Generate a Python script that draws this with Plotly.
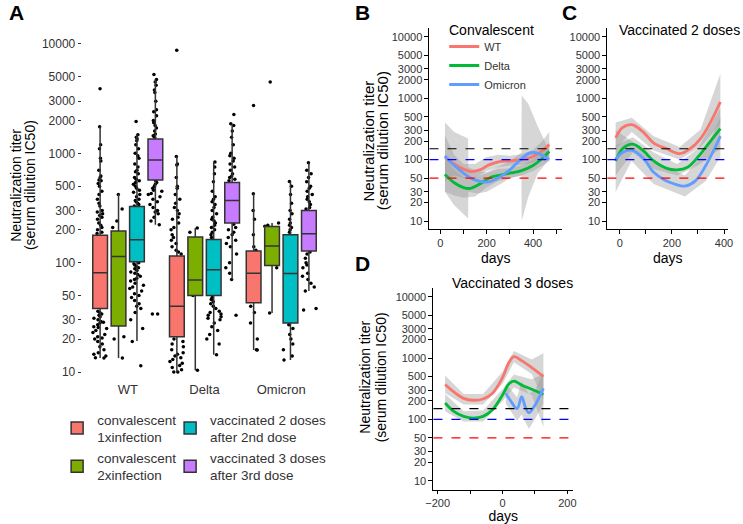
import plotly.graph_objects as go

W, H = 743, 524

# ---------------- panel A: titers per variant ----------------
categories = ['WT', 'Delta', 'Omicron']
group_names = ['convalescent<br>1xinfection', 'convalescent<br>2xinfection',
               'vaccinated 2 doses<br>after 2nd dose', 'vaccinated 3 doses<br>after 3rd dose']
group_colors = ['#F8766D', '#7CAE00', '#00BFC4', '#C77CFF']

# box statistics, one value per category (WT, Delta, Omicron)
red_stats = dict(q1=[38, 21, 43], median=[81, 40, 80], q3=[178, 115, 128],
                 lowerfence=[13.4, 10, 15.9], upperfence=[1760, 937, 426])
green_stats = dict(q1=[26.4, 50, 94], median=[114, 69.5, 142], q3=[195, 172, 214],
                   lowerfence=[13.4, 10.4, 34.7], upperfence=[424, 208, 231])
cyan_stats = dict(q1=[102, 50, 28], median=[162, 86, 79.5], q3=[327, 163, 180],
                  lowerfence=[19.2, 14.4, 12.9], upperfence=[1480, 832, 553])
purple_stats = dict(q1=[569, 230, 128], median=[869, 371, 184], q3=[1352, 542, 300],
                    lowerfence=[222, 70, 55], upperfence=[4720, 1866, 820])

# individual sera (the ones visible outside the boxes)
red_points = {
    'WT': [3900, 1750, 1200, 1100, 900, 850, 700, 620, 600, 570, 560, 530, 500, 450, 420, 380,
           350, 330, 300, 290, 280, 270, 260, 250, 230, 220, 210, 200, 190, 185,
           36, 35, 34, 33, 32, 31, 30, 29, 28, 27, 26, 25, 24, 23, 22, 21, 20, 19, 18,
           17, 16, 15, 14.5, 14, 13.5, 13.4, 20.5, 25.5, 28.5],
    'Delta': [8750, 937, 800, 780, 600, 500, 480, 420, 380, 350, 320, 300, 280, 260, 250,
              230, 210, 200, 180, 170, 160, 150, 140, 130, 125, 120,
              20, 19, 18, 17, 16, 15, 14.5, 14, 13.5, 13, 12.5, 12, 11.5, 11, 10.5, 10, 10],
    'Omicron': [2730, 426, 300, 250, 180, 140, 130, 40, 35, 28, 20, 16, 15.9],
}
green_points = {
    'WT': [420, 310, 240, 210, 21, 20, 13.4],
    'Delta': [208, 190, 50, 10.4],
    'Omicron': [4500, 231, 220, 215, 90, 34.7],
}
cyan_points = {
    'WT': [1950, 1480, 1400, 1350, 1300, 1200, 1100, 1000, 950, 900, 800, 750, 700, 680, 650,
           600, 580, 560, 540, 520, 500, 480, 460, 440, 420, 400, 380, 370, 360, 350, 340, 330,
           100, 98, 95, 92, 90, 88, 85, 82, 80, 78, 75, 72, 70, 68, 65, 62, 60, 58, 55, 52,
           50, 48, 45, 42, 40, 38, 35, 30, 25, 19, 11.4],
    'Delta': [832, 750, 650, 550, 450, 400, 380, 360, 340, 320, 300, 280, 260, 250, 240, 230,
              220, 210, 200, 190, 180, 170, 48, 46, 44, 42, 40, 38, 36, 35, 34, 33, 32, 31,
              30, 28, 26, 24, 22, 20, 18, 14.4],
    'Omicron': [553, 500, 420, 350, 300, 280, 250, 230, 220, 210, 200, 190,
                27, 25, 22, 20, 18, 16, 14, 12.9],
}
purple_points = {
    'WT': [5260, 4720, 4500, 4200, 3800, 3600, 3000, 2500, 2400, 2200, 2000, 1900, 1800, 1700,
           1600, 1500, 1450, 1400, 560, 540, 520, 500, 480, 460, 450, 430, 420, 400, 380, 360,
           340, 320, 300, 290, 280, 260, 240, 222, 34, 34],
    'Delta': [2270, 1866, 1800, 1600, 1400, 1200, 1000, 950, 900, 850, 800, 750, 700, 650, 620,
              600, 580, 560, 225, 210, 200, 190, 180, 170, 160, 150, 140, 120, 100, 90, 80, 70, 33],
    'Omicron': [820, 700, 650, 600, 550, 500, 480, 450, 420, 400, 380, 360, 340, 320, 310,
                125, 120, 110, 100, 95, 90, 80, 75, 70, 65, 60, 55, 38, 37],
}

# ---------------- panels B-D: titer over time ----------------
variant_names = ['WT', 'Delta', 'Omicron']
variant_colors = ['#F8766D', '#00BA38', '#619CFF']
thresholds = [150, 100, 50]
threshold_colors = ['black', '#0000FF', '#FF0000']

b_wt_days = [20, 60, 100, 130, 170, 210, 250, 300, 350, 400, 440, 470]
b_wt = [110, 85, 70, 64, 68, 82, 92, 95, 100, 112, 140, 175]
b_delta_days = [20, 60, 100, 130, 170, 220, 260, 300, 350, 400, 440, 470]
b_delta = [57, 42, 35, 34, 40, 52, 56, 60, 66, 80, 105, 135]
b_omi_days = [20, 60, 100, 140, 200, 240, 300, 340, 380, 410, 440, 470]
b_omi = [115, 80, 60, 48, 43, 48, 68, 95, 125, 130, 118, 100]

b_wt_band_days = [20, 60, 100, 150, 200, 250, 300, 350, 400, 440, 470]
b_wt_lo = [45, 55, 50, 50, 65, 75, 80, 82, 90, 100, 110]
b_wt_hi = [250, 120, 85, 85, 110, 120, 115, 122, 145, 200, 280]
b_delta_band_days = [20, 60, 100, 150, 200, 250, 300, 350, 400, 440, 470]
b_delta_lo = [30, 26, 24, 25, 35, 45, 50, 55, 65, 80, 95]
b_delta_hi = [110, 68, 52, 52, 60, 70, 72, 80, 100, 140, 190]
b_omi_band_days = [20, 60, 120, 121, 160, 200, 260, 300, 350, 351, 380, 420, 470]
b_omi_lo = [30, 18, 11, 30, 28, 30, 40, 50, 55, 10, 25, 60, 100]
b_omi_hi = [400, 280, 220, 75, 65, 62, 80, 95, 130, 1100, 800, 350, 140]

c_wt_days = [-16, 10, 46, 90, 130, 180, 230, 270, 310, 350, 386]
c_wt = [225, 330, 370, 280, 185, 150, 125, 150, 220, 420, 870]
c_delta_days = [-16, 10, 50, 90, 130, 180, 220, 260, 300, 340, 386]
c_delta = [95, 150, 178, 140, 95, 72, 68, 75, 110, 180, 320]
c_omi_days = [-16, 10, 45, 90, 130, 170, 210, 250, 290, 330, 386]
c_omi = [100, 130, 142, 105, 62, 47, 40, 37, 45, 80, 240]

c_wt_band_days = [-16, 46, 130, 230, 310, 386]
c_wt_lo = [150, 280, 140, 100, 160, 380]
c_wt_hi = [400, 480, 240, 160, 310, 2500]
c_delta_band_days = [-16, 50, 130, 220, 300, 386]
c_delta_lo = [55, 130, 70, 55, 80, 150]
c_delta_hi = [170, 230, 130, 85, 150, 700]
c_omi_band_days = [-16, 45, 130, 250, 330, 386]
c_omi_lo = [30, 95, 40, 25, 45, 110]
c_omi_hi = [300, 200, 95, 55, 140, 500]

d_wt_days = [-177, -150, -120, -90, -60, -30, 0, 20, 35, 60, 90, 126]
d_wt = [370, 280, 220, 205, 215, 270, 480, 850, 1050, 900, 700, 500]
d_delta_days = [-177, -150, -120, -90, -60, -30, 0, 20, 35, 60, 90, 126]
d_delta = [185, 135, 112, 105, 112, 145, 250, 380, 420, 360, 310, 255]
d_omi_days = [10, 25, 45, 59, 70, 81, 100, 126]
d_omi = [265, 200, 150, 235, 160, 128, 170, 320]

d_wt_band_days = [-177, -120, -60, 0, 35, 90, 126]
d_wt_lo = [270, 175, 175, 380, 850, 550, 210]
d_wt_hi = [520, 260, 260, 600, 1300, 950, 1200]
d_delta_band_days = [-177, -120, -60, 0, 35, 90, 126]
d_delta_lo = [135, 92, 92, 200, 330, 250, 75]
d_delta_hi = [260, 135, 140, 310, 540, 450, 550]
d_omi_band_days = [10, 45, 59, 81, 100, 126]
d_omi_lo = [180, 95, 120, 70, 100, 180]
d_omi_hi = [380, 230, 420, 260, 300, 600]

titer_ticks = [10, 20, 30, 50, 100, 200, 300, 500, 1000, 2000, 3000, 5000, 10000]

FONT = 'Liberation Sans, Arial, sans-serif'
TXT = '#333333'

fig = go.Figure()

# jittered points first so the boxes sit on top of them
all_points = [red_points, green_points, cyan_points, purple_points]
for name, pts in zip(group_names, all_points):
    xs = [c for c in categories for _ in pts[c]]
    ys = [v for c in categories for v in pts[c]]
    fig.add_trace(go.Box(
        x=xs, y=ys, xaxis='x', yaxis='y', offsetgroup=name, alignmentgroup='A',
        boxpoints='all', jitter=1, pointpos=0, fillcolor='rgba(0,0,0,0)',
        line=dict(width=0, color='rgba(0,0,0,0)'), marker=dict(color='black', size=3.5),
        showlegend=False, hoverinfo='skip'))

all_stats = [red_stats, green_stats, cyan_stats, purple_stats]
legend_ids = ['legend', 'legend', 'legend3', 'legend3']
for name, color, st, leg in zip(group_names, group_colors, all_stats, legend_ids):
    fig.add_trace(go.Box(
        x=categories, xaxis='x', yaxis='y', name=name, offsetgroup=name, alignmentgroup='A',
        boxpoints=False, whiskerwidth=0, fillcolor=color,
        line=dict(color='#333333', width=1.5), legend=leg, **st))


def add_panel(ax, days_list, vals_list, band_days, band_lo, band_hi, legend_on):
    xa, ya = 'x' + ax, 'y' + ax
    for bd, lo, hi in zip(band_days, band_lo, band_hi):
        fig.add_trace(go.Scatter(
            x=bd + bd[::-1], y=hi + lo[::-1], xaxis=xa, yaxis=ya, fill='toself',
            fillcolor='rgba(153,153,153,0.4)', line=dict(width=0), mode='lines',
            showlegend=False, hoverinfo='skip'))
    for nm, col, dd, vv in zip(variant_names, variant_colors, days_list, vals_list):
        fig.add_trace(go.Scatter(
            x=dd, y=vv, xaxis=xa, yaxis=ya, mode='lines', name=nm,
            line=dict(color=col, width=2.8, shape='spline', smoothing=1.0),
            showlegend=legend_on, legend='legend2'))
    for t, tc in zip(thresholds, threshold_colors):
        fig.add_shape(type='line', xref=xa + ' domain', x0=0, x1=1, yref=ya, y0=t, y1=t,
                      line=dict(color=tc, width=1.2, dash='dash'))


add_panel('2', [b_wt_days, b_delta_days, b_omi_days], [b_wt, b_delta, b_omi],
          [b_wt_band_days, b_delta_band_days, b_omi_band_days],
          [b_wt_lo, b_delta_lo, b_omi_lo], [b_wt_hi, b_delta_hi, b_omi_hi], True)
add_panel('3', [c_wt_days, c_delta_days, c_omi_days], [c_wt, c_delta, c_omi],
          [c_wt_band_days, c_delta_band_days, c_omi_band_days],
          [c_wt_lo, c_delta_lo, c_omi_lo], [c_wt_hi, c_delta_hi, c_omi_hi], False)
add_panel('4', [d_wt_days, d_delta_days, d_omi_days], [d_wt, d_delta, d_omi],
          [d_wt_band_days, d_delta_band_days, d_omi_band_days],
          [d_wt_lo, d_delta_lo, d_omi_lo], [d_wt_hi, d_delta_hi, d_omi_hi], False)


def px_x(a, b):
    return [a / W, b / W]


def px_y(top, bottom):
    return [1 - bottom / H, 1 - top / H]


time_y = dict(type='log', tickvals=titer_ticks, ticktext=[str(t) for t in titer_ticks],
              showline=True, linecolor='black', linewidth=1, ticks='outside', ticklen=4,
              tickcolor='black', tickfont=dict(size=11, color=TXT), showgrid=False,
              zeroline=False)
time_x = dict(showline=True, linecolor='black', linewidth=1, ticks='outside', ticklen=4,
              tickcolor='black', tickfont=dict(size=11, color=TXT), showgrid=False,
              zeroline=False, title=dict(text='days', font=dict(size=14, color='black'),
                                         standoff=4))

fig.update_layout(
    width=W, height=H, margin=dict(l=0, r=0, t=0, b=0),
    paper_bgcolor='white', plot_bgcolor='white',
    font=dict(family=FONT, color='black'),
    boxmode='group', boxgap=0.04, boxgroupgap=0.2,
    xaxis=dict(domain=px_x(75, 325), type='category', categoryarray=categories,
               range=[-0.6, 2.6], showline=False, ticks='', showgrid=False,
               tickfont=dict(size=13, color=TXT)),
    yaxis=dict(domain=px_y(35, 380), type='log', range=[0.927, 4.082], tickvals=titer_ticks,
               ticktext=[str(t) for t in titer_ticks], ticks='outside', ticklen=3,
               tickcolor=TXT, showline=False, showgrid=False, zeroline=False,
               tickfont=dict(size=12, color=TXT)),
    xaxis2=dict(time_x, domain=px_x(429, 564), range=[-46.6, 525.4], anchor='y2',
                tickvals=[0, 100, 200, 300, 400, 500], ticktext=['0', '', '200', '', '400', '']),
    yaxis2=dict(time_y, domain=px_y(28, 229), range=[0.870, 4.142], anchor='x2'),
    xaxis3=dict(time_x, domain=px_x(610, 733), range=[-48, 416], anchor='y3',
                tickvals=[0, 100, 200, 300, 400], ticktext=['0', '', '200', '', '400']),
    yaxis3=dict(time_y, domain=px_y(28, 229), range=[0.870, 4.142], anchor='x3'),
    xaxis4=dict(time_x, domain=px_x(433, 575), range=[-213, 217], anchor='y4', ticklen=3,
                tickvals=[-200, -100, 0, 100, 200], ticktext=['\u2212200', '', '0', '', '200'],
                title=dict(text='days', font=dict(size=14, color='black'), standoff=1)),
    yaxis4=dict(time_y, domain=px_y(288, 490), range=[0.848, 4.142], anchor='x4'),
    legend=dict(x=50 / W, y=1 - 404 / H, xanchor='left', yanchor='top',
                font=dict(size=13.5, color=TXT), bgcolor='rgba(0,0,0,0)', itemwidth=30,
                tracegroupgap=0),
    legend3=dict(x=165 / W, y=1 - 404 / H, xanchor='left', yanchor='top',
                 font=dict(size=13.5, color=TXT), bgcolor='rgba(0,0,0,0)', itemwidth=30,
                 tracegroupgap=0),
    legend2=dict(x=444 / W, y=1 - 32 / H, xanchor='left', yanchor='top',
                 font=dict(size=11, color=TXT), bgcolor='rgba(0,0,0,0)', itemwidth=30,
                 tracegroupgap=0),
)

labels = [('A', 9, 12), ('B', 361, 12), ('C', 571, 12), ('D', 361, 263)]
for txt, x, y in labels:
    fig.add_annotation(text='<b>' + txt + '</b>', x=x / W, y=1 - y / H, xref='paper',
                       yref='paper', showarrow=False, xanchor='center', yanchor='middle',
                       font=dict(size=21, color='black'))

panel_titles = [('Convalescent', 492, 30), ('Vaccinated 2 doses', 683, 30),
                ('Vaccinated 3 doses', 513, 283)]
for txt, x, y in panel_titles:
    fig.add_annotation(text=txt, x=x / W, y=1 - y / H, xref='paper', yref='paper',
                       showarrow=False, xanchor='center', yanchor='middle',
                       font=dict(size=14, color='black'))

# y-axis titles, one annotation per line to keep the tight line spacing
ytitle_lines = ['Neutralization titer', '(serum dilution IC50)']
ytitle_spots = [((8, 22.5), 185, 14), ((366, 381), 141, 15), ((363, 380), 377, 14)]
for (x1, x2), yc, fs in ytitle_spots:
    for line, xc in zip(ytitle_lines, (x1, x2)):
        fig.add_annotation(text=line, x=xc / W, y=1 - yc / H, xref='paper', yref='paper',
                           showarrow=False, textangle=-90, xanchor='center',
                           yanchor='middle', font=dict(size=fs, color='black'))

fig.write_html('out.html', config={'displayModeBar': False},
               post_script="document.body.style.margin='0';")
